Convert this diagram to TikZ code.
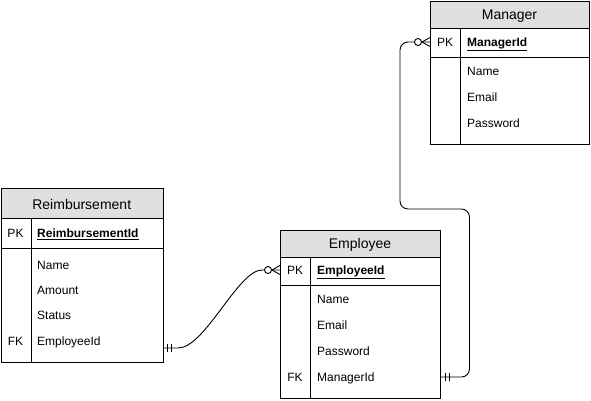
\documentclass[tikz,border=0pt]{standalone}
\usepackage{fontspec}
\setmainfont{Liberation Sans}
\definecolor{hdrgray}{HTML}{E0E0E0}
\begin{document}
\begin{tikzpicture}[x=1pt,y=-1pt,
  tbl/.style={draw, line width=1pt, inner sep=0pt, anchor=north west},
  sep/.style={line width=1pt},
  ttl/.style={font=\fontsize{14}{16}\selectfont, text height=10pt, text depth=0pt, inner sep=0pt},
  keyc/.style={font=\fontsize{12}{14}\selectfont, text height=8.6pt, text depth=0pt, inner sep=0pt},
  attr/.style={font=\fontsize{12}{14}\selectfont, text height=8.6pt, text depth=0pt, inner sep=0pt, anchor=west},
  pkattr/.style={font=\fontsize{12}{14}\selectfont\bfseries, text height=8.6pt, text depth=0pt, inner sep=0pt, anchor=west},
  rel/.style={line width=0.9pt},
  tip/.style={line width=0.9pt},
  ring/.style={line width=0.9pt, draw, fill=white}
]
\useasboundingbox (0,0) rectangle (591,400);

% ---------- Reimbursement ----------
\fill[hdrgray] (0.5,188) rectangle (163,218);
\node[tbl, minimum width=162.5pt, minimum height=174pt] (reimb) at (0.5,188) {};
\draw[sep] (0.5,218) -- (163,218);
\draw[sep] (0.5,248) -- (163,248);
\draw[sep] (31,218) -- (31,362);
\node[ttl] (reimb-title) at (81.75,204) {Reimbursement};
\node[keyc] (reimb-pkk) at (15.5,233) {PK};
\node[pkattr] (reimb-pk) at (37,233) {\underline{ReimbursementId}};
\node[attr] (reimb-a1) at (37,265) {Name};
\node[attr] (reimb-a2) at (37,290) {Amount};
\node[attr] (reimb-a3) at (37,315) {Status};
\node[keyc] (reimb-fkk) at (15.5,341) {FK};
\node[attr] (reimb-fk) at (37,341) {EmployeeId};

% ---------- Employee ----------
\fill[hdrgray] (280,230) rectangle (440,257);
\node[tbl, minimum width=160pt, minimum height=168pt] (emp) at (280,230) {};
\draw[sep] (280,257) -- (440,257);
\draw[sep] (280,285) -- (440,285);
\draw[sep] (310,257) -- (310,398);
\node[ttl] (emp-title) at (360,243) {Employee};
\node[keyc] (emp-pkk) at (295,270) {PK};
\node[pkattr] (emp-pk) at (317,270) {\underline{EmployeeId}};
\node[attr] (emp-a1) at (317,299) {Name};
\node[attr] (emp-a2) at (317,325) {Email};
\node[attr] (emp-a3) at (317,351) {Password};
\node[keyc] (emp-fkk) at (295,377) {FK};
\node[attr] (emp-fk) at (317,377) {ManagerId};

% ---------- Manager ----------
\fill[hdrgray] (430,1) rectangle (589,28);
\node[tbl, minimum width=159pt, minimum height=143pt] (mgr) at (430,1) {};
\draw[sep] (430,28) -- (589,28);
\draw[sep] (430,57) -- (589,57);
\draw[sep] (460,28) -- (460,144);
\node[ttl] (mgr-title) at (509.5,14) {Manager};
\node[keyc] (mgr-pkk) at (445,42) {PK};
\node[pkattr] (mgr-pk) at (467,42) {\underline{ManagerId}};
\node[attr] (mgr-a1) at (467,71) {Name};
\node[attr] (mgr-a2) at (467,97) {Email};
\node[attr] (mgr-a3) at (467,123) {Password};

% ---------- connector ends ----------
\coordinate (r-out) at (163,348);
\coordinate (e-in) at (280,270);
\coordinate (e-out) at (440,377);
\coordinate (m-in) at (430,42);

% Reimbursement.EmployeeId -> Employee.EmployeeId
\draw[rel] (r-out) -- (178,348) .. controls (205,348) and (238,270) .. (262,270) -- (e-in);
\draw[tip] (167,344) -- (167,352);
\draw[tip] (171,344) -- (171,352);
\draw[ring] (268,270) circle (3.5);
\draw[tip] (272,270) -- (280,265.5);
\draw[tip] (272,270) -- (280,274.5);

% Employee.ManagerId -> Manager.ManagerId
\draw[rel, rounded corners=8pt] (e-out) -- (469.5,377) -- (469.5,209) -- (400,209) -- (400,42) -- (m-in);
\draw[tip] (445,373) -- (445,381);
\draw[tip] (449,373) -- (449,381);
\draw[ring] (418,42) circle (3.5);
\draw[tip] (422,42) -- (430,37.5);
\draw[tip] (422,42) -- (430,46.5);
\end{tikzpicture}
\end{document}
